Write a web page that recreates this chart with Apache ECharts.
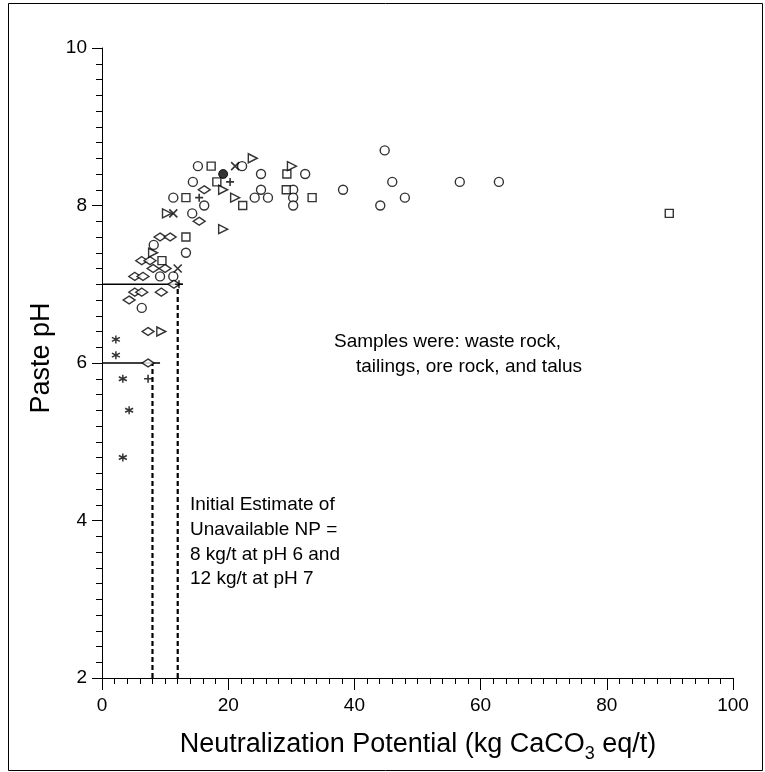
<!DOCTYPE html>
<html><head><meta charset="utf-8">
<script src="https://cdn.jsdelivr.net/npm/echarts@6/dist/echarts.min.js"></script>
<style>html,body{margin:0;padding:0;background:#fff}#c{width:765px;height:772px}</style>
</head><body><div id="c"></div>
<script>
// ---- data ----
const circleNP = [44.8,38.2,46.0,48.0,44.1,56.7,62.9,22.2,15.2,25.2,32.2,14.4,25.2,30.3,11.3,24.2,26.3,30.3,16.2,30.3,14.3,8.2,13.3,9.2,11.3,6.3];
const circlePH = [8.7,8.2,8.3,8.1,8.0,8.3,8.3,8.5,8.5,8.4,8.4,8.3,8.2,8.2,8.1,8.1,8.1,8.1,8.0,8.0,7.9,7.5,7.4,7.1,7.1,6.7];
const squareNP = [89.9,17.3,29.3,18.2,29.2,13.3,33.3,22.3,13.3,9.5];
const squarePH = [7.9,8.5,8.4,8.3,8.2,8.1,8.1,8.0,7.6,7.3];
const diamondNP = [16.2,15.4,9.2,10.8,6.3,7.6,8.1,10.0,5.2,6.5,11.4,5.2,6.3,9.4,4.3,7.3,7.3];
const diamondPH = [8.2,7.8,7.6,7.6,7.3,7.3,7.2,7.2,7.1,7.1,7.0,6.9,6.9,6.9,6.8,6.4,6.0];
const triangleNP = [23.9,30.1,19.2,21.1,10.3,19.2,8.1,9.4];
const trianglePH = [8.6,8.5,8.2,8.1,7.9,7.7,7.4,6.4];
const crossNP = [21.1,11.3,12.0];
const crossPH = [8.5,7.9,7.2];
const plusNP = [20.3,15.4,12.2,7.3];
const plusPH = [8.3,8.1,7.0,5.8];
const starNP = [2.2,2.2,3.3,4.3,3.3];
const starPH = [6.3,6.1,5.8,5.4,4.8];
const filledNP = [19.2];
const filledPH = [8.4];
// estimate lines
const ph7LineNP = [0,12.8]; const ph7LinePH = [7,7];
const ph6LineNP = [0,9.2];  const ph6LinePH = [6,6];
const dash8NP = [8,8];  const dash8PH = [2,6];
const dash12NP = [12,12]; const dash12PH = [2,7];
const xTicks = [0,20,40,60,80,100];
const yTicks = [2,4,6,8,10];

const zip = (a,b)=>a.map((v,i)=>[v,b[i]]);
const F = 'Liberation Sans, Arial, sans-serif';
const mk = (name, xs, ys, symbol, size, extra) => Object.assign({
  name, type:'scatter', data: zip(xs,ys), symbol, symbolSize:size,
  itemStyle:{color:'#fff', borderColor:'#000', borderWidth:1.4}, z:5, silent:true
}, extra||{});
const ln = (xs, ys, type, w) => ({type:'line', data:zip(xs,ys), symbol:'none', silent:true,
  lineStyle:{color:'#000', width:w, type:type}, z:3});

const chart = echarts.init(document.getElementById('c'), null, {renderer:'canvas'});

const ctx = document.createElement('canvas').getContext('2d');
function tw(t, size){ ctx.font = size+'px '+F; return ctx.measureText(t).width; }
const tSize = 27, sSize = 18;
const p1 = 'Neutralization Potential (kg CaCO', p2 = '3', p3 = ' eq/t)';
const totalW = tw(p1,tSize)+tw(p2,sSize)+tw(p3,tSize);
const titleCx = 418, titleY = 745;
let x0 = titleCx - totalW/2;
const aF = '19px '+F;

chart.setOption({
  animation:false,
  backgroundColor:'#fff',
  grid:{left:102, right:32, top:48, bottom:94, containLabel:false},
  xAxis:{type:'value', min:0, max:100, interval:20,
    axisLine:{lineStyle:{color:'#000', width:1}},
    axisTick:{length:12, lineStyle:{color:'#000'}},
    minorTick:{show:true, splitNumber:10, length:6, lineStyle:{color:'#000'}},
    axisLabel:{color:'#000', fontSize:19, fontFamily:F, margin:18, formatter:v=>xTicks.includes(v)?String(v):''},
    splitLine:{show:false}},
  yAxis:{type:'value', min:2, max:10, interval:2,
    axisLine:{lineStyle:{color:'#000', width:1}},
    axisTick:{length:10, lineStyle:{color:'#000'}},
    minorTick:{show:true, splitNumber:10, length:6, lineStyle:{color:'#000'}},
    axisLabel:{color:'#000', fontSize:19, fontFamily:F, margin:15, formatter:v=>yTicks.includes(v)?String(v):''},
    splitLine:{show:false}},
  graphic:[
    {type:'rect', shape:{x:8.5,y:3.5,width:754,height:767}, style:{fill:null, stroke:'#000', lineWidth:1}, silent:true, z:-1},
    {type:'text', x:x0, y:titleY, style:{text:p1, font:tSize+'px '+F, fill:'#000', textVerticalAlign:'middle'}},
    {type:'text', x:x0+tw(p1,tSize), y:titleY+9, style:{text:p2, font:sSize+'px '+F, fill:'#000', textVerticalAlign:'middle'}},
    {type:'text', x:x0+tw(p1,tSize)+tw(p2,sSize), y:titleY, style:{text:p3, font:tSize+'px '+F, fill:'#000', textVerticalAlign:'middle'}},
    {type:'text', x:42, y:358, rotation:Math.PI/2, style:{text:'Paste pH', font:'27px '+F, fill:'#000', textAlign:'center', textVerticalAlign:'middle'}},
    {type:'text', x:334, y:342, style:{text:'Samples were: waste rock,', font:aF, fill:'#000', textVerticalAlign:'middle'}},
    {type:'text', x:356, y:367, style:{text:'tailings, ore rock, and talus', font:aF, fill:'#000', textVerticalAlign:'middle'}},
    {type:'text', x:190, y:505, style:{text:'Initial Estimate of', font:aF, fill:'#000', textVerticalAlign:'middle'}},
    {type:'text', x:190, y:530, style:{text:'Unavailable NP =', font:aF, fill:'#000', textVerticalAlign:'middle'}},
    {type:'text', x:190, y:555, style:{text:'8 kg/t at pH 6 and', font:aF, fill:'#000', textVerticalAlign:'middle'}},
    {type:'text', x:190, y:579, style:{text:'12 kg/t at pH 7', font:aF, fill:'#000', textVerticalAlign:'middle'}}
  ],
  series:[
    ln(ph7LineNP, ph7LinePH, 'solid', 1.3),
    ln(ph6LineNP, ph6LinePH, 'solid', 1.3),
    ln(dash8NP, dash8PH, [5,3], 2.2),
    ln(dash12NP, dash12PH, [5,3], 2.2),
    mk('circle', circleNP, circlePH, 'circle', 9),
    mk('square', squareNP, squarePH, 'rect', 8),
    mk('diamond', diamondNP, diamondPH, 'diamond', [12,8]),
    mk('triangle', triangleNP, trianglePH, 'path://M0,0L10,5L0,10Z', [9,9]),
    mk('cross', crossNP, crossPH, 'path://M0,0L10,10M0,10L10,0', 8, {itemStyle:{color:'#000', borderColor:'#000', borderWidth:1.6}}),
    mk('plus', plusNP, plusPH, 'path://M5,0L5,10M0,5L10,5', 8, {itemStyle:{color:'#000', borderColor:'#000', borderWidth:1.6}}),
    mk('star', starNP, starPH, 'path://M5,0L5,10M0.7,2.5L9.3,7.5M0.7,7.5L9.3,2.5', 8, {itemStyle:{color:'#000', borderColor:'#000', borderWidth:1.5}}),
    mk('filled', filledNP, filledPH, 'circle', 9, {itemStyle:{color:'#000', borderColor:'#000', borderWidth:1}})
  ]
});
</script></body></html>
